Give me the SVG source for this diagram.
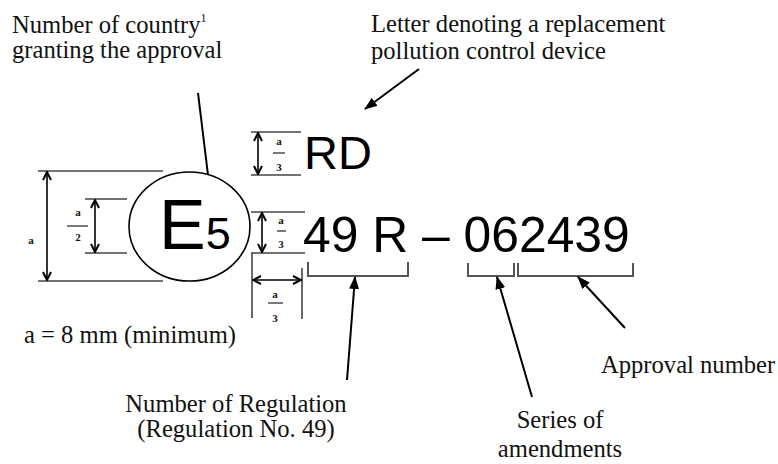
<svg xmlns="http://www.w3.org/2000/svg" width="778" height="464" viewBox="0 0 778 464">
<style>
  .lbl { font-family: "Liberation Serif", "Times New Roman", serif; fill: #111; font-size: 24.6px; }
  .big { font-family: "Liberation Sans", Arial, sans-serif; fill: #000; }
  .dim { font-family: "Liberation Serif", "Times New Roman", serif; font-weight: bold; font-size: 11px; fill: #111; text-anchor: middle; }
  .ext { stroke: #444; stroke-width: 1.6; fill: none; }
  .darr { stroke: #000; stroke-width: 1.6; fill: none; marker-start: url(#chev); marker-end: url(#chev); }
  .bar { stroke: #222; stroke-width: 1.2; }
  .brk { stroke: #555; stroke-width: 2; fill: none; }
  .call { stroke: #000; stroke-width: 2; fill: none; }
  .callA { stroke: #000; stroke-width: 2; fill: none; marker-end: url(#tri); }
</style>
<defs>
  <marker id="chev" viewBox="0 0 10 10" refX="9" refY="5" markerWidth="10" markerHeight="10" markerUnits="userSpaceOnUse" orient="auto-start-reverse">
    <path d="M1,1 L9,5 L1,9" fill="none" stroke="#000" stroke-width="2"/>
  </marker>
  <marker id="tri" viewBox="0 0 13 10" refX="12" refY="5" markerWidth="13" markerHeight="10" markerUnits="userSpaceOnUse" orient="auto">
    <path d="M0,0 L13,5 L0,10 Z" fill="#000"/>
  </marker>
</defs>
<rect width="778" height="464" fill="#fff"/>

<g id="mark">
  <ellipse cx="189.5" cy="226.5" rx="60.5" ry="54.5" fill="none" stroke="#000" stroke-width="1.6"/>
  <text class="big" x="159" y="249" font-size="70">E<tspan font-size="45">5</tspan></text>
</g>

<g id="rd">
  <text class="big" x="304" y="169" font-size="47">RD</text>
</g>

<g id="approval-code">
  <text class="big" x="303" y="252" font-size="49.8">49 R – 062439</text>
</g>

<g id="dim-a">
  <line class="ext" x1="38" y1="171" x2="163" y2="171"/>
  <line class="ext" x1="38" y1="281" x2="163" y2="281"/>
  <line class="darr" x1="47" y1="172" x2="47" y2="280"/>
  <text class="dim" x="31" y="244" font-size="13">a</text>
</g>

<g id="dim-a2">
  <line class="ext" x1="85" y1="199" x2="127" y2="199"/>
  <line class="ext" x1="85" y1="253" x2="127" y2="253"/>
  <line class="darr" x1="95" y1="200" x2="95" y2="252"/>
  <text class="dim" x="78" y="216">a</text>
  <line class="bar" x1="67" y1="226" x2="88" y2="226"/>
  <text class="dim" x="78" y="241">2</text>
</g>

<g id="dim-rd">
  <line class="ext" x1="251" y1="132" x2="301" y2="132"/>
  <line class="ext" x1="251" y1="175" x2="301" y2="175"/>
  <line class="darr" x1="258" y1="133" x2="258" y2="174"/>
  <text class="dim" x="279" y="145">a</text>
  <line class="bar" x1="273" y1="153" x2="285" y2="153"/>
  <text class="dim" x="279" y="171">3</text>
</g>

<g id="dim-49">
  <line class="ext" x1="251" y1="212" x2="305" y2="212"/>
  <line class="ext" x1="251" y1="253" x2="305" y2="253"/>
  <line class="darr" x1="262" y1="213" x2="262" y2="252"/>
  <text class="dim" x="281" y="224">a</text>
  <line class="bar" x1="277" y1="231" x2="286" y2="231"/>
  <text class="dim" x="281" y="248">3</text>
</g>

<g id="dim-h">
  <line class="ext" x1="252" y1="253" x2="252" y2="318"/>
  <line class="ext" x1="302" y1="268" x2="302" y2="319"/>
  <line class="darr" x1="253" y1="280" x2="301" y2="280"/>
  <text class="dim" x="275" y="298">a</text>
  <line class="bar" x1="268" y1="303" x2="283" y2="303"/>
  <text class="dim" x="275" y="322">3</text>
</g>

<g id="brackets">
  <path class="brk" d="M308,262 V276 H408 V262"/>
  <path class="brk" d="M468,263 V276 H514 V263"/>
  <path class="brk" d="M518,263 V276 H633 V263"/>
</g>

<g id="connectors">
  <line class="call" x1="198" y1="93" x2="208" y2="175"/>
  <line class="callA" x1="419" y1="69" x2="365" y2="109"/>
  <line class="callA" x1="347" y1="380" x2="355" y2="277"/>
  <line class="callA" x1="532" y1="397" x2="497" y2="277"/>
  <line class="callA" x1="625" y1="328" x2="578" y2="277"/>
</g>

<g id="label-country">
  <text class="lbl" x="12" y="33">Number of country<tspan font-size="12" dy="-11">1</tspan></text>
  <text class="lbl" x="12" y="58">granting the approval</text>
</g>
<g id="label-letter">
  <text class="lbl" x="371" y="32">Letter denoting a replacement</text>
  <text class="lbl" x="371" y="59">pollution control device</text>
</g>
<g id="label-a">
  <text class="lbl" x="24" y="343">a = 8 mm (minimum)</text>
</g>
<g id="label-regulation">
  <text class="lbl" x="236" y="412" text-anchor="middle">Number of Regulation</text>
  <text class="lbl" x="236" y="437" text-anchor="middle">(Regulation No. 49)</text>
</g>
<g id="label-series">
  <text class="lbl" x="560" y="428" text-anchor="middle">Series of</text>
  <text class="lbl" x="560" y="457" text-anchor="middle">amendments</text>
</g>
<g id="label-approval">
  <text class="lbl" x="601" y="373">Approval number</text>
</g>
</svg>
